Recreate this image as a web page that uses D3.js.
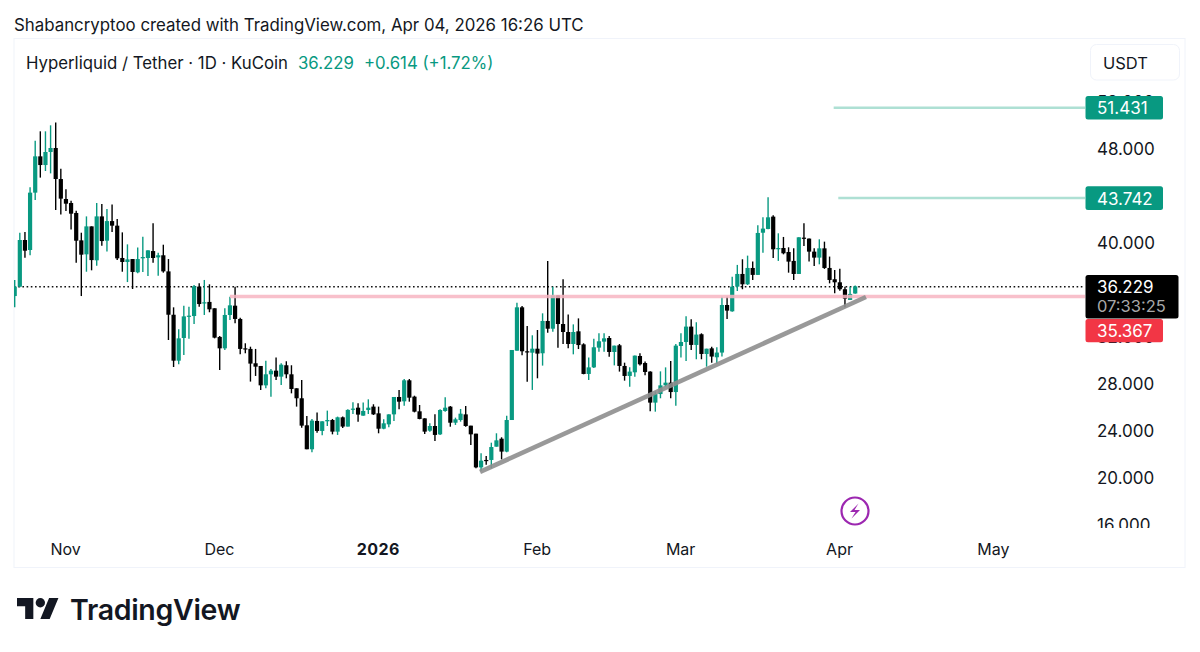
<!DOCTYPE html>
<html><head><meta charset="utf-8">
<script src="https://cdn.jsdelivr.net/npm/d3@7"></script>
<style>
html,body{margin:0;padding:0;background:#fff;overflow:hidden}
text{font-family:Inter,"Noto Sans",sans-serif}
</style></head><body>
<svg id="c" width="1200" height="652"></svg>
<script>
const open=[35.40,36.20,40.17,39.32,44.20,47.29,46.55,47.66,48.00,45.36,
43.66,43.32,42.47,40.14,38.95,41.33,38.44,42.18,40.11,41.78,
41.39,38.64,38.30,38.55,37.42,38.61,38.64,39.23,38.69,38.87,
37.50,33.81,29.90,31.83,33.64,33.70,36.20,34.78,34.90,34.36,
31.92,30.95,33.79,34.58,33.45,30.95,30.90,29.68,29.45,27.80,
28.74,29.05,28.54,29.51,28.74,27.55,26.70,24.40,22.36,24.77,
23.92,24.74,24.85,23.86,25.08,24.29,25.76,25.90,25.22,25.70,
25.99,25.42,24.11,24.48,25.33,26.81,26.44,28.23,26.84,25.59,
24.99,23.94,24.34,23.63,25.62,25.99,24.62,24.85,25.33,24.37,
23.69,20.82,21.45,21.45,22.58,23.26,22.16,24.85,30.75,34.44,
30.70,30.58,30.92,30.53,33.28,32.62,35.46,33.02,32.34,31.32,
32.40,31.29,28.77,29.33,31.01,31.52,31.83,30.64,31.21,29.45,
28.60,28.91,30.30,29.70,28.97,26.33,27.06,27.80,28.03,27.23,
31.15,31.49,32.80,31.24,32.15,30.47,30.95,30.19,30.59,34.64,
34.10,36.20,37.28,36.40,37.79,37.20,40.79,41.11,42.16,39.38,
39.49,39.15,38.39,37.28,40.37,40.29,39.18,38.67,39.46,37.79,36.83,36.57,35.98,35.07,35.615];
const high=[36.77,40.79,40.85,44.65,48.62,49.42,49.42,49.93,50.18,46.24,
44.48,43.51,42.66,40.79,42.18,41.33,43.32,43.23,42.81,43.20,
41.95,40.82,39.80,38.55,39.54,40.45,39.29,41.59,39.09,39.77,
38.55,34.44,32.57,34.58,34.49,36.34,36.48,36.77,36.40,34.36,
32.00,34.36,35.35,36.20,33.56,31.38,31.09,30.90,29.45,29.90,
29.19,30.16,29.68,29.85,29.51,27.55,28.26,25.19,24.94,25.48,
24.74,25.65,24.94,25.14,25.14,25.76,26.36,26.27,26.33,26.61,
26.19,25.99,24.91,25.33,26.81,27.41,28.34,28.34,26.92,26.13,
24.99,24.57,25.33,25.76,26.78,26.04,25.05,25.79,26.04,24.37,
23.69,22.02,21.79,22.92,23.72,23.38,25.22,30.81,34.84,34.55,
32.85,32.06,32.51,33.93,38.38,36.20,35.46,36.82,33.82,32.99,
33.50,31.38,30.16,31.77,32.23,32.23,32.00,31.18,31.32,29.73,
29.33,30.33,30.53,29.82,28.99,27.29,28.99,29.33,29.87,31.32,
32.23,33.68,33.42,33.17,32.23,30.92,31.09,31.04,35.35,35.35,
37.05,38.05,38.53,38.84,38.33,41.42,42.10,43.80,42.27,40.74,
40.43,39.55,39.47,40.40,41.59,40.29,39.46,40.23,40.03,38.76,37.62,37.73,36.20,36.20,36.30];
const low=[34.44,36.14,38.67,38.87,43.57,45.48,46.04,45.84,42.72,42.35,
42.63,41.07,38.24,35.40,37.47,37.59,37.98,39.68,39.20,40.85,
38.46,37.47,36.59,36.00,37.33,37.45,37.10,38.24,37.13,37.39,
31.66,29.36,29.59,30.38,31.77,33.02,34.50,33.79,34.02,31.80,
29.11,30.81,33.36,33.08,30.44,30.53,28.12,28.60,27.41,27.55,
26.84,28.26,27.83,28.40,27.12,25.99,24.20,22.36,22.10,23.77,
23.55,24.34,23.63,23.58,24.17,24.29,25.36,24.71,25.22,25.36,
25.28,23.72,24.06,24.23,24.77,25.76,26.07,26.41,25.50,24.91,
23.66,23.86,23.06,23.58,25.56,24.28,24.43,24.71,24.28,22.72,
20.74,20.54,21.05,20.74,22.58,21.50,22.10,24.85,30.75,30.36,
28.11,27.41,28.40,29.48,32.28,32.37,31.01,31.32,30.95,30.44,
30.89,28.74,28.26,29.28,30.67,30.67,30.24,29.50,28.97,28.20,
27.69,28.54,29.48,28.65,25.59,25.56,26.70,27.69,26.70,26.07,
30.16,29.87,30.81,30.02,30.02,29.39,29.73,29.62,30.25,33.45,
34.07,35.83,35.98,36.34,36.77,37.20,39.09,41.08,38.64,38.39,
38.95,37.39,36.77,37.28,39.66,38.33,37.96,38.10,37.71,36.48,35.64,35.86,34.44,35.07,35.60];
const close=[36.20,40.17,39.26,44.20,47.29,46.55,47.66,48.00,45.36,43.69,
43.26,42.41,40.11,38.92,41.33,38.46,42.18,40.08,41.78,41.39,
38.61,38.30,38.52,37.45,38.55,38.72,39.29,38.64,38.87,37.50,
33.81,29.90,31.80,33.67,33.73,36.23,34.72,34.87,34.27,31.86,
30.95,33.79,34.61,33.45,30.90,30.87,29.65,29.39,27.80,28.74,
29.05,28.54,29.56,28.74,27.49,26.70,24.37,22.36,24.80,23.92,
24.74,24.85,23.86,25.08,24.29,25.71,25.82,25.31,25.62,25.90,
25.33,24.11,24.57,25.33,26.81,26.41,28.23,26.75,25.56,24.94,
23.86,24.34,23.58,25.70,25.90,24.62,24.91,25.39,24.34,23.63,
20.82,21.39,21.39,22.55,23.12,22.16,24.85,30.81,34.44,30.70,
30.61,30.92,30.50,33.28,32.62,35.46,33.02,32.34,31.32,32.34,
31.23,28.77,29.33,31.04,31.55,31.80,30.64,31.18,29.45,28.60,
28.97,30.33,29.59,28.94,26.33,27.06,27.80,28.03,27.23,31.18,
31.49,32.80,31.24,32.12,30.47,30.92,30.25,30.59,34.64,34.16,
36.20,37.28,36.40,37.79,37.20,40.77,41.14,42.10,39.38,39.49,
39.04,38.33,37.28,40.40,40.29,39.18,38.67,39.46,37.79,36.77,36.57,35.98,35.18,35.58,36.229];

const priceTicks=[52,48,40,32,28,24,20,16];
const monthTicks=[10,40,71,102,130,161,191];
const monthLabels=["Nov","Dec","2026","Feb","Mar","Apr","May"];
const lastPrice=36.229;
const target1=51.431, target2=43.742, support=35.367;
const target1Start=159.8, target2Start=160.7, supportStart=42;
const trendIndex=[90.8,166.1], trendPrice=[20.43,35.32];
const countdown="07:33:25";

const GREEN="#089981", RED="#f23645", INK="#131722";
const svg=d3.select("#c");
const x=d3.scaleLinear().domain([0,164]).range([14.7,855.2]);
const y=d3.scaleLinear().domain([48,16]).range([148,524]);
const paneRight=1085;

svg.append("text").attr("x",14).attr("y",31).attr("font-size",16.85).attr("fill",INK)
  .text("Shabancryptoo created with TradingView.com, Apr 04, 2026 16:26 UTC");

svg.append("rect").attr("x",14).attr("y",38.5).attr("width",1171).attr("height",529)
  .attr("fill","#fff").attr("stroke","#f0f3fa").attr("stroke-width",1);

const defs=svg.append("defs");
defs.append("clipPath").attr("id","pane").append("rect").attr("x",14).attr("y",39).attr("width",paneRight-14).attr("height",489);
defs.append("clipPath").attr("id","axisY").append("rect").attr("x",paneRight).attr("y",39).attr("width",100).attr("height",489);

const axisG=svg.append("g").attr("clip-path","url(#axisY)").append("g")
  .attr("transform",`translate(${paneRight},0)`)
  .call(d3.axisRight(y).tickValues(priceTicks).tickSize(0).tickPadding(12).tickFormat(d3.format(".3f")));
axisG.select(".domain").remove();
axisG.selectAll("text").attr("font-size",17).attr("fill",INK).attr("dy","0.40em").style("font-family","Inter");

const timeG=svg.append("g").attr("transform","translate(0,528)")
  .call(d3.axisBottom(x).tickValues(monthTicks).tickSize(0).tickPadding(15.5).tickFormat((d,i)=>monthLabels[i]));
timeG.select(".domain").remove();
timeG.selectAll("text").attr("font-size",16).attr("fill",INK).attr("dx",-0.8).style("font-family","Inter")
  .attr("font-weight",(d,i)=>monthLabels[i]==="2026"?700:400)
  .attr("letter-spacing",(d,i)=>monthLabels[i]==="2026"?"0.4":"0");

const pane=svg.append("g").attr("clip-path","url(#pane)");
const idx=d3.range(open.length);
const col=i=>close[i]>=open[i]?GREEN:"#000";
pane.append("line").attr("x1",14).attr("x2",paneRight).attr("y1",y(lastPrice)+0.4).attr("y2",y(lastPrice)+0.4)
  .attr("stroke","#111").attr("stroke-width",1.4).attr("stroke-dasharray","1.6 2.6");
pane.selectAll("line.w").data(idx).join("line").attr("class","w")
  .attr("x1",i=>x(i)).attr("x2",i=>x(i)).attr("y1",i=>y(high[i])).attr("y2",i=>y(low[i]))
  .attr("stroke",col).attr("stroke-width",1.4);
pane.selectAll("rect.b").data(idx).join("rect").attr("class","b")
  .attr("x",i=>x(i)-2.1).attr("width",4.2)
  .attr("y",i=>y(Math.max(open[i],close[i])))
  .attr("height",i=>Math.max(1.2,Math.abs(y(open[i])-y(close[i]))))
  .attr("fill",col);

pane.append("line").attr("x1",x(supportStart)).attr("x2",paneRight).attr("y1",y(support)).attr("y2",y(support))
  .attr("stroke","#f7b6c2").attr("stroke-width",3.4).attr("opacity",0.85);
pane.append("line").attr("x1",x(target1Start)).attr("x2",paneRight).attr("y1",y(target1)).attr("y2",y(target1))
  .attr("stroke","#aee0d4").attr("stroke-width",2.4);
pane.append("line").attr("x1",x(target2Start)).attr("x2",paneRight).attr("y1",y(target2)).attr("y2",y(target2))
  .attr("stroke","#aee0d4").attr("stroke-width",2.4);
pane.append("line").attr("x1",x(trendIndex[0])).attr("x2",x(trendIndex[1]))
  .attr("y1",y(trendPrice[0])).attr("y2",y(trendPrice[1]))
  .attr("stroke","#8f8f8f").attr("stroke-width",4.6).attr("opacity",0.9);

function tag(top,h,w,fill,label){
  svg.append("rect").attr("x",paneRight+0.5).attr("y",top).attr("width",w).attr("height",h).attr("rx",2.5).attr("fill",fill);
  svg.append("text").attr("x",paneRight+12).attr("y",top+h/2+6.6).attr("font-size",17).attr("fill","#fff").text(label);
}
tag(96,23.5,77.5,GREEN,target1.toFixed(3));
tag(186.3,23.7,77.5,GREEN,target2.toFixed(3));
tag(319,23.3,77.5,RED,support.toFixed(3));
svg.append("rect").attr("x",paneRight+0.5).attr("y",275).attr("width",93).attr("height",43.5).attr("rx",2.5).attr("fill","#000");
svg.append("text").attr("x",paneRight+12).attr("y",293.4).attr("font-size",17).attr("fill","#fff").text(lastPrice.toFixed(3));
svg.append("text").attr("x",paneRight+12).attr("y",312.4).attr("font-size",16.5).attr("fill","#a8a8a8").text(countdown);

svg.append("rect").attr("x",1090.5).attr("y",44.5).attr("width",89).attr("height",35.5).attr("rx",6)
  .attr("fill","#fff").attr("stroke","#f0f3fa");
svg.append("text").attr("x",1103).attr("y",68.5).attr("font-size",16.5).attr("fill",INK).text("USDT");

svg.append("text").attr("x",26).attr("y",69).attr("font-size",16.8).attr("fill",INK).text("Hyperliquid / Tether · 1D · KuCoin");
svg.append("text").attr("x",298).attr("y",69).attr("font-size",16.8).attr("fill",GREEN).text(lastPrice.toFixed(3));
svg.append("text").attr("x",364).attr("y",69).attr("font-size",16.8).attr("fill",GREEN).text("+0.614 (+1.72%)");

const icon=svg.append("g").attr("transform","translate(855,511)");
icon.append("circle").attr("r",13.5).attr("fill","#fff").attr("stroke","#9c27b0").attr("stroke-width",2.2);
icon.append("path").attr("d","M3.5-7.5L-5 1H0.5L-3.5 7.5L5-1H-0.5Z").attr("fill","#9c27b0");

const logo=svg.append("g").attr("transform","translate(17,593.4) scale(1.167)").attr("fill","#131722");
logo.append("path").attr("d","M14 22H7V11H0V4h14v18zM28 22h-8l7.5-18h8L28 22z");
logo.append("circle").attr("cx",20).attr("cy",8).attr("r",4);
svg.append("text").attr("x",70).attr("y",620).attr("font-size",28.5).attr("font-weight",600).attr("letter-spacing",-0.3)
  .attr("fill","#131722").text("TradingView");
</script></body></html>
